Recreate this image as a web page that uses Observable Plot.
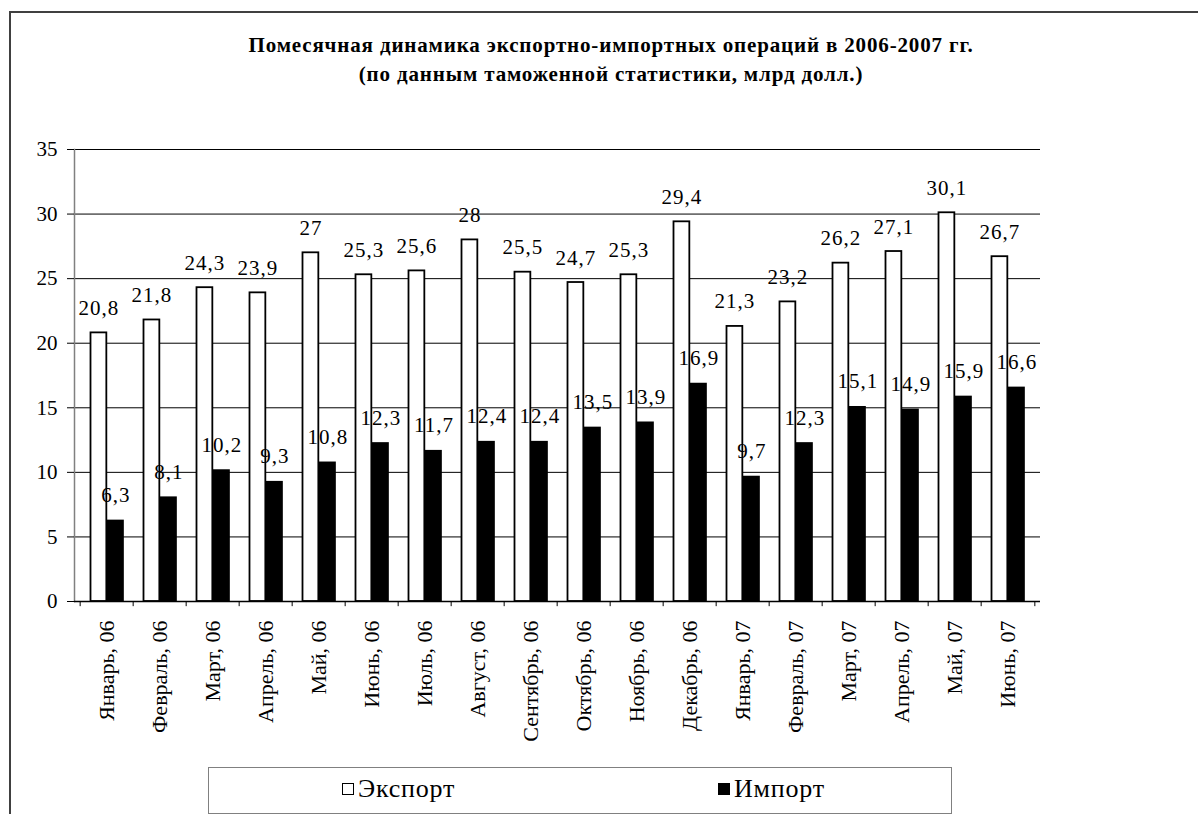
<!DOCTYPE html>
<html>
<head>
<meta charset="utf-8">
<script src="https://cdn.jsdelivr.net/npm/d3@7"></script>
<script src="https://cdn.jsdelivr.net/npm/@observablehq/plot@0.6"></script>
<style>
  html, body { margin: 0; padding: 0; background: #fff; }
  body { width: 1198px; height: 814px; overflow: hidden; position: relative; font-family: 'Liberation Serif', serif; }
  #frame { position: absolute; left: 9px; top: 11px; width: 1300px; height: 900px; border: 2px solid #404040; box-sizing: border-box; }
  #title { position: absolute; left: 0; width: 1222px; top: 31px; text-align: center; font-weight: bold; font-size: 21px; line-height: 29px; letter-spacing: 0.85px; color: #000; font-family: 'Liberation Serif', serif; }
  #chart { position: absolute; left: 0; top: 130px; }
  #legend { position: absolute; left: 208px; top: 767px; width: 744px; height: 47px; border: 1.5px solid #808080; box-sizing: border-box; background: #fff; font-size: 26px; letter-spacing: 0.8px; color: #000; font-family: 'Liberation Serif', serif; }
  .item { position: absolute; top: 6px; display: flex; align-items: center; }
  .sw { width: 12px; height: 12px; margin-right: 4px; box-sizing: border-box; }
</style>
</head>
<body>
<div id="frame"></div>
<div id="title">Помесячная динамика экспортно-импортных операций в 2006-2007 гг.<br>(по данным таможенной статистики, млрд долл.)</div>
<div id="chart"></div>
<div id="legend">
  <div class="item" style="left:133px"><div class="sw" style="border:1.5px solid #000;background:#fff"></div><span>Экспорт</span></div>
  <div class="item" style="left:509px"><div class="sw" style="background:#000"></div><span>Импорт</span></div>
</div>
<script>
const months = ["Январь, 06","Февраль, 06","Март, 06","Апрель, 06","Май, 06","Июнь, 06","Июль, 06","Август, 06","Сентябрь, 06","Октябрь, 06","Ноябрь, 06","Декабрь, 06","Январь, 07","Февраль, 07","Март, 07","Апрель, 07","Май, 07","Июнь, 07"];
const exportVals = [20.8, 21.8, 24.3, 23.9, 27, 25.3, 25.6, 28, 25.5, 24.7, 25.3, 29.4, 21.3, 23.2, 26.2, 27.1, 30.1, 26.7];
const importVals = [6.3, 8.1, 10.2, 9.3, 10.8, 12.3, 11.7, 12.4, 12.4, 13.5, 13.9, 16.9, 9.7, 12.3, 15.1, 14.9, 15.9, 16.6];
const yTicks = [0, 5, 10, 15, 20, 25, 30, 35];

const W = 1198, H = 620, mL = 74, mR = 158, mT = 19, mB = 149;
const bw = (W - mL - mR) / months.length;
const exp = months.map((m, i) => ({month: m, value: exportVals[i]}));
const imp = months.map((m, i) => ({month: m, value: importVals[i]}));
const fmt = v => String(v).replace(".", ",");

const chart = Plot.plot({
  width: W, height: H,
  marginLeft: mL, marginRight: mR, marginTop: mT, marginBottom: mB,
  style: {fontSize: "21px", color: "#000", background: "transparent", overflow: "visible"},
  x: {type: "band", domain: months, padding: 0},
  y: {domain: [0, 35], ticks: yTicks},
  marks: [
    Plot.ruleY(yTicks.filter(t => t > 0), {stroke: "#000", strokeWidth: 1}),
    Plot.frame({anchor: "left", stroke: "#808080", strokeWidth: 1.5}),
    Plot.barY(exp, {x: "month", y: "value", fill: "#fff", stroke: "#000", strokeWidth: 1.8, insetLeft: 10.5, insetRight: bw - 27}),
    Plot.barY(imp, {x: "month", y: "value", fill: "#000", insetLeft: 27, insetRight: bw - 44.5}),
    Plot.ruleY([0], {stroke: "#000", strokeWidth: 1.5}),
    Plot.ruleX(months, {x: d => d, dx: -bw / 2, y1: 0, y2: -0.4, stroke: "#000"}),
    Plot.ruleX(months.slice(-1), {x: d => d, dx: bw / 2, y1: 0, y2: -0.4, stroke: "#000"}),
    Plot.text(exp, {x: "month", y: "value", text: d => fmt(d.value), dx: -bw / 2 + 18.75, dy: -18, lineAnchor: "bottom", fontSize: 21, fill: "#000", className: "vlab"}),
    Plot.text(imp, {x: "month", y: "value", text: d => fmt(d.value), dx: -bw / 2 + 35.75, dy: -18, lineAnchor: "bottom", fontSize: 21, fill: "#000", className: "vlab"}),
    Plot.axisY({ticks: yTicks, tickSize: 7, tickPadding: 10, label: null, tickFormat: d => String(d), fontSize: 21}),
    Plot.axisX({tickSize: 0, tickPadding: 19, tickRotate: -90, label: null, fontSize: 22})
  ]
});
document.getElementById("chart").appendChild(chart);
const serif = "'Liberation Serif', serif";
chart.style.setProperty("font-family", serif, "important");
chart.setAttribute("font-family", serif);
chart.querySelectorAll("g, text").forEach(el => {
  el.setAttribute("font-family", serif);
  el.style.setProperty("font-family", serif, "important");
});
chart.querySelectorAll("g.vlab text, .vlab text").forEach(el => el.style.setProperty("letter-spacing", "1px"));
</script>
</body>
</html>
